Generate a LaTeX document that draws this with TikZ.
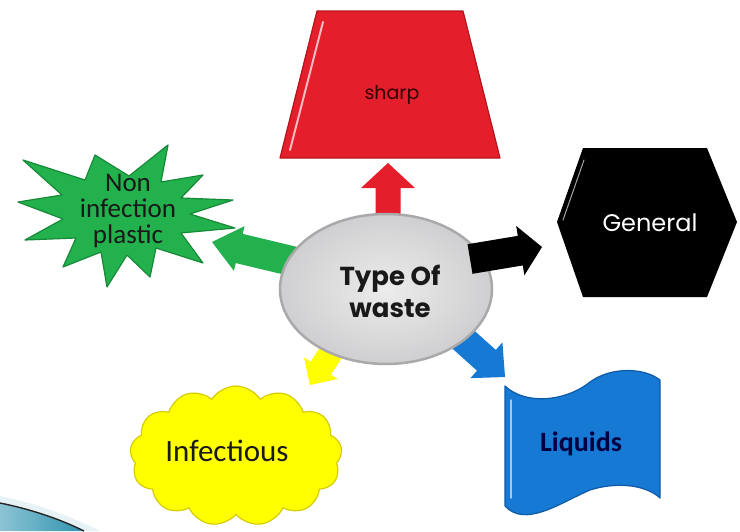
\documentclass[tikz,border=0pt]{standalone}
\usepackage{fontspec}
\setmainfont{Carlito}
\newfontfamily\geo{Poppins}
\usetikzlibrary{calc,shapes.symbols}
\definecolor{redS}{HTML}{E41E2B}
\definecolor{redD}{HTML}{B5141C}
\definecolor{greenS}{HTML}{22B14C}
\definecolor{greenD}{HTML}{168A38}
\definecolor{yellowS}{HTML}{FFFF00}
\definecolor{yellowD}{HTML}{D6CC00}
\definecolor{blueS}{HTML}{1679D3}
\definecolor{blueD}{HTML}{0E5AA6}
\definecolor{grayF}{HTML}{CFCFD1}
\definecolor{grayD}{HTML}{A9A9AB}
\definecolor{tealS}{HTML}{2F93B0}
\newcommand{\blockarr}[6]{%
  \path (#1) coordinate (ba-s) (#2) coordinate (ba-t);
  \path ($(ba-t)!#5!(ba-s)$) coordinate (ba-h);
  \fill[#6] ($(ba-s)!#3!90:(ba-t)$) -- ($(ba-h)!#3!-90:(ba-s)$) --
    ($(ba-h)!#4!-90:(ba-s)$) -- (ba-t) -- ($(ba-h)!#4!90:(ba-s)$) --
    ($(ba-h)!#3!90:(ba-s)$) -- ($(ba-s)!#3!-90:(ba-t)$) -- cycle;}
\begin{document}
\begin{tikzpicture}[x=1pt,y=-1pt,
  lbl/.style={inner sep=0pt,align=center,text=black!90},
  shapeline/.style={line width=1.2pt,line join=round}]
\useasboundingbox (0,0) rectangle (740,531);
\fill[white] (0,0) rectangle (740,531);

% bottom-left swoosh
\fill[tealS!12] (0,496) .. controls (35,503) and (70,516) .. (100,531) -- (0,531) -- cycle;
\shade[left color=tealS!55, right color=tealS] (0,503) .. controls (30,509) and (60,519) .. (84,531) -- (0,531) -- cycle;
\draw[black!85,line width=1.4pt] (0,503) .. controls (30,509) and (60,519) .. (84,531);

% coordinates for arrows
\coordinate (redA) at (388,226);  \coordinate (redB) at (388,163);
\coordinate (grnA) at (300,263);  \coordinate (grnB) at (212,242);
\coordinate (blkA) at (470,259);  \coordinate (blkB) at (542,247);
\coordinate (yelA) at (339,340);  \coordinate (yelB) at (310,385);
\coordinate (bluA) at (456,333);  \coordinate (bluB) at (505,377);

% sharp trapezoid
\draw[shapeline,draw=redD,fill=redS] (317,11) -- (463,11) -- (500,158) -- (280,158) -- cycle;
\draw[white!70!redS,line width=2pt,line cap=round] (323,22) -- (290,150);
\node[lbl,text=black!80!red,font=\geo\fontsize{19}{22}\selectfont] (sharp) at (392,95) {sharp};

% General hexagon
\fill[black] (557,222) -- (583,148) -- (707,148) -- (737,222) -- (707,297) -- (583,297) -- cycle;
\draw[gray!70,line width=1pt,line cap=round] (584,160) -- (563,220);
\node[lbl,text=white,font=\geo\fontsize{24}{26}\selectfont] (general) at (650,223) {General};

% green starburst
\draw[shapeline,draw=greenD,fill=greenS]
  (233,200) -- (190,214) -- (235,228) -- (181,233) -- (203,263) -- (156,248) --
  (150,277) -- (127,255) -- (107,287) -- (101,252) -- (63,267) -- (76,238) --
  (25,240) -- (63,219) -- (18,202) -- (62,195) -- (23,160) -- (85,180) --
  (95,155) -- (129,176) -- (168,145) -- (161,182) -- (203,175) -- (181,198) -- cycle;
\node[lbl,font=\fontsize{27}{26}\selectfont] (plastic) at (128,211) {Non\\infection\\plastic};

% yellow cloud
\node[cloud,cloud puffs=13,cloud puff arc=115,aspect=1.5,minimum width=212pt,minimum height=140pt,
  draw=yellowD,fill=yellowS,line width=1.2pt,inner sep=0pt] (cloudshape) at (236,456) {};
\node[lbl,font=\fontsize{31}{33}\selectfont] (infectious) at (227,451) {Infectious};

% Liquids wave
\draw[shapeline,draw=blueD,fill=blueS]
  (505,386) .. controls (525,405) and (565,402) .. (590,382)
  .. controls (612,366) and (645,368) .. (660,380) -- (660,498)
  .. controls (645,484) and (615,482) .. (590,490)
  .. controls (560,503) and (525,528) .. (505,506) -- cycle;
\draw[blueS!40!white,line width=1.5pt,line cap=round] (511,400) -- (511,498);
\node[lbl,text=blue!25!black,font=\bfseries\fontsize{28}{31}\selectfont] (liquids) at (581,444) {Liquids};

% arrows under the ellipse
\blockarr{redA}{redB}{12.5pt}{27pt}{25pt}{redS}
\blockarr{grnA}{grnB}{15pt}{23pt}{28pt}{greenS}
\blockarr{yelA}{yelB}{12pt}{20pt}{20pt}{yellowS}
\blockarr{bluA}{bluB}{14pt}{24pt}{25pt}{blueS}

% centre ellipse
\draw[line width=2.5pt,draw=grayD,inner color=gray!15,outer color=grayF] (386,289) ellipse [x radius=106, y radius=75];
\node[lbl,font=\geo\bfseries\fontsize{26}{32}\selectfont] (type) at (390,291) {Type Of\\waste};

% black arrow on top
\blockarr{blkA}{blkB}{15pt}{25pt}{22pt}{black}
\end{tikzpicture}
\end{document}
